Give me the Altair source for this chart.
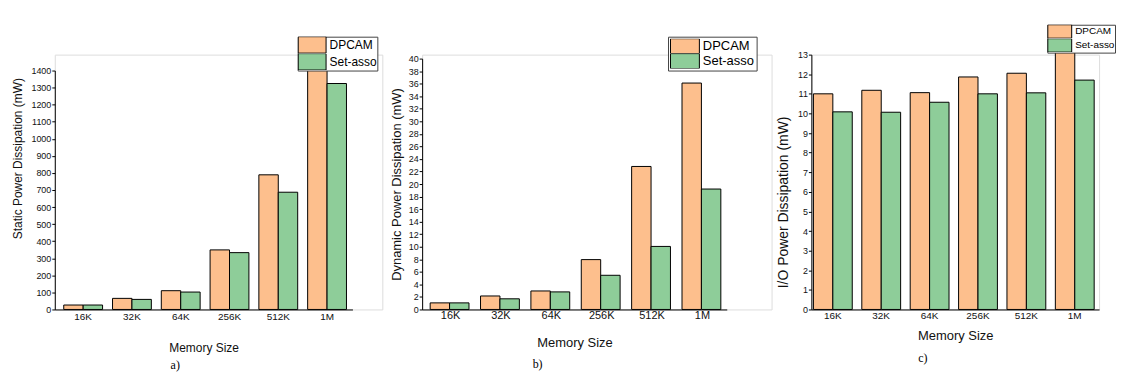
import altair as alt
import pandas as pd

# ---------------- data ----------------
sizes = ["16K", "32K", "64K", "256K", "512K", "1M"]
series = ["DPCAM", "Set-asso"]
colors = ["#FDBF8D", "#8ECD99"]

static_dpcam = [26, 65, 110, 349, 789, 1410]
static_set = [26, 59, 102, 333, 687, 1324]

dynamic_dpcam = [1.05, 2.15, 2.95, 7.95, 22.8, 36.1]
dynamic_set = [1.05, 1.7, 2.8, 5.45, 10.05, 19.2]

io_dpcam = [11.0, 11.18, 11.06, 11.86, 12.05, 13.15]
io_set = [10.08, 10.06, 10.57, 11.0, 11.05, 11.7]

static_ticks = list(range(0, 1401, 100))
dynamic_ticks = list(range(0, 41, 2))
io_ticks = list(range(0, 14, 1))

FONT = "Liberation Sans"
H = 256


def make_df(d_vals, s_vals):
    return pd.DataFrame({
        "size": sizes + sizes,
        "series": [series[0]] * len(sizes) + [series[1]] * len(sizes),
        "value": d_vals + s_vals,
    })


def panel(df, ymax, yticks, ytop, ytitle, ytitle_size, ytitle_x, ytitle_y,
          view_w, xr, pin, pout, align, xlab_size, xlab_pad, xtitle_size, xtitle_y,
          leg_x, leg_y, sym_w, sym_h, leg_font, leg_pad, caption, cap_dx, cap_off):
    path = "M-1,-{r}L1,-{r}L1,{r}L-1,{r}Z".format(r=round(sym_h / sym_w, 3))
    return alt.Chart(df).mark_bar(stroke="black", strokeWidth=1).encode(
        x=alt.X("size:N", sort=sizes,
                scale=alt.Scale(range=[0, xr], paddingInner=pin, paddingOuter=pout, align=align),
                axis=alt.Axis(title="Memory Size", labelAngle=0, ticks=False, labelPadding=xlab_pad,
                              labelFontSize=xlab_size, titleFontSize=xtitle_size,
                              titleFontWeight="normal", titleX=xr / 2, titleY=xtitle_y,
                              titleBaseline="middle", titleAlign="center")),
        xOffset=alt.XOffset("series:N", sort=series,
                            scale=alt.Scale(paddingInner=0, paddingOuter=0)),
        y=alt.Y("value:Q",
                scale=alt.Scale(domain=[0, ymax], range=[H, ytop], nice=False, zero=True),
                axis=alt.Axis(title=ytitle, values=yticks, format="d", labelFontSize=9, tickSize=3,
                              labelPadding=1, grid=False, titleFontSize=ytitle_size,
                              titleFontWeight="normal", titleX=ytitle_x, titleY=ytitle_y,
                              titleAngle=270, titleAlign="center", titleBaseline="bottom")),
        color=alt.Color("series:N", sort=series,
                        scale=alt.Scale(domain=series, range=colors),
                        legend=alt.Legend(title=None, orient="none", legendX=leg_x, legendY=leg_y,
                                          direction="vertical", symbolType=path,
                                          symbolSize=sym_w * sym_w, symbolStrokeColor="black",
                                          symbolStrokeWidth=1, symbolOpacity=1,
                                          clipHeight=sym_h, rowPadding=0,
                                          labelFont=FONT, labelFontSize=leg_font, labelColor="black",
                                          labelOffset=3, padding=leg_pad,
                                          strokeColor="#444444", fillColor="white")),
    ).properties(
        width=view_w, height=H,
        title=alt.TitleParams(text=caption, orient="bottom", frame="group", anchor="middle",
                              dx=cap_dx, offset=cap_off, baseline="middle",
                              font="Liberation Serif", fontSize=12, fontWeight="normal",
                              color="black"),
    )


pa = panel(make_df(static_dpcam, static_set), 1400, static_ticks, 16,
           "Static Power Dissipation (mW)", 12, -30, 104,
           329, 299, 0.204, 0.153, 0.6, 10, 2, 12, 38,
           244, -18, 28, 16.5, 12, 0, "a)", -43.5, 12)

pb = panel(make_df(dynamic_dpcam, dynamic_set), 40, dynamic_ticks, 4,
           "Dynamic Power Dissipation (mW)", 13, -19, 130,
           351, 306, 0.19, 0.119, 0.67, 11, 0, 13, 33,
           247, -18, 29, 15, 13, 2, "b)", -59.5, 15)

pc = panel(make_df(io_dpcam, io_set), 13, io_ticks, 0,
           "I/O Power Dissipation (mW)", 14, -21, 148,
           289, 289, 0.2, 0.073, 0.29, 10, 1, 13, 26,
           237, -30, 24, 13.5, 10, 0, "c)", -32.5, 16)

chart = alt.hconcat(pa, pb, pc, spacing=40, bounds="flush").resolve_scale(
    color="independent"
).properties(
    padding={"left": 3, "top": 15, "right": 0, "bottom": 0}
).configure_view(stroke=None).configure(
    font=FONT
).configure_axis(
    domainColor="black", tickColor="black", labelColor="#111111", titleColor="#111111",
    labelFont=FONT, titleFont=FONT, domainWidth=1
)

chart.save("out.html", embed_options={"renderer": "svg", "actions": False})
